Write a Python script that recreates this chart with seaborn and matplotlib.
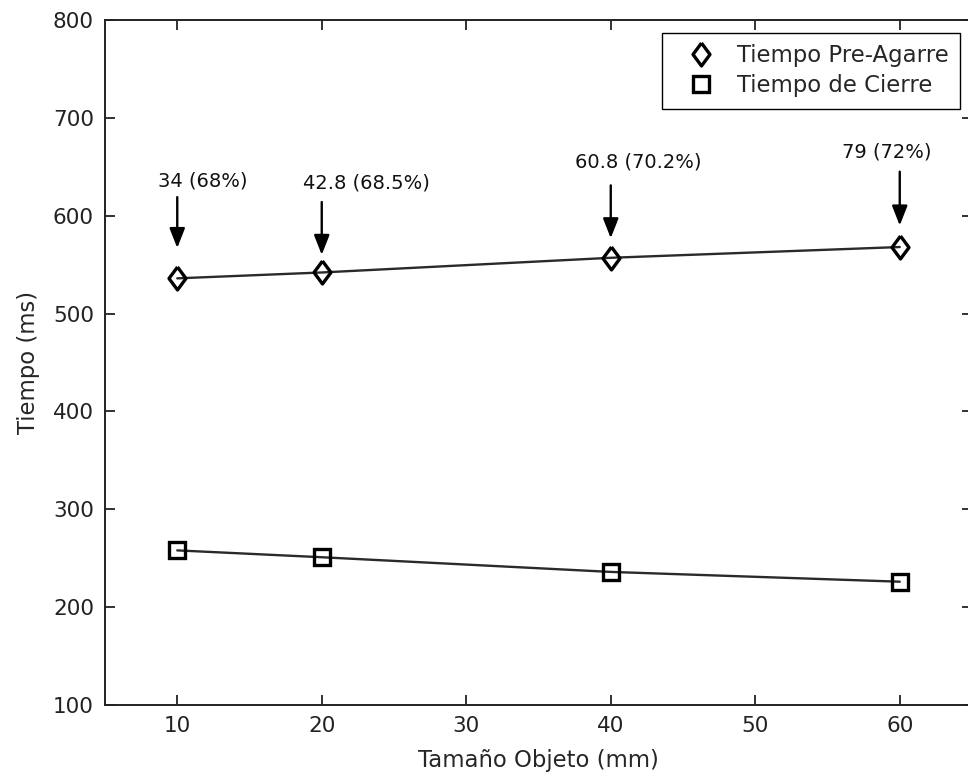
import matplotlib
matplotlib.use("Agg")
import matplotlib.pyplot as plt
import seaborn as sns
import pandas as pd

# ---- data ----
tamano_mm = [10, 20, 40, 60]
tiempo_pre_agarre = [536, 542, 557, 568]
tiempo_cierre = [258, 251, 236, 226]
etiquetas = ["34 (68%)", "42.8 (68.5%)", "60.8 (70.2%)", "79 (72%)"]
serie_pre = "Tiempo Pre-Agarre"
serie_cierre = "Tiempo de Cierre"
x_ticks = [10, 20, 30, 40, 50, 60]
y_ticks = [100, 200, 300, 400, 500, 600, 700, 800]

df_pre = pd.DataFrame({"x": tamano_mm, "y": tiempo_pre_agarre})
df_cie = pd.DataFrame({"x": tamano_mm, "y": tiempo_cierre})

sns.set_style("ticks")
plt.rcParams["font.family"] = ["DejaVu Sans"]
FS = 15.5
FS_LAB = 16.4
FS_ANN = 14

fig = plt.figure(figsize=(9.68, 7.75), dpi=100)
ax = fig.add_axes([105 / 968, 1 - 705 / 775, 867 / 968, 685 / 775])

diamond = [(0, 1), (0.74, 0), (0, -1), (-0.74, 0), (0, 1)]
LINE_C = "#2a2a2a"

# fitted/connecting lines
sns.lineplot(data=df_pre, x="x", y="y", ax=ax, color=LINE_C, lw=1.7, legend=False)
sns.lineplot(data=df_cie, x="x", y="y", ax=ax, color=LINE_C, lw=1.7, legend=False)
# markers
sns.lineplot(data=df_pre, x="x", y="y", ax=ax, linestyle="none", marker=diamond,
             markersize=16.5, markerfacecolor="none", markeredgecolor="black",
             markeredgewidth=2.4, color="black", label=serie_pre)
sns.lineplot(data=df_cie, x="x", y="y", ax=ax, linestyle="none", marker="s",
             markersize=11, markerfacecolor="none", markeredgecolor="black",
             markeredgewidth=2.4, color="black", label=serie_cierre)

# annotations (layout offsets)
text_dy = [99, 91, 98, 97]
tail_dy = [83, 72, 74, 77]
tip_dy = [31, 18, 20, 22]
text_dx = [-1.33, -1.3, -2.5, -4.0]
for xi, yi, lab, tdy, tly, tpy, tdx in zip(tamano_mm, tiempo_pre_agarre, etiquetas,
                                           text_dy, tail_dy, tip_dy, text_dx):
    ax.text(xi + tdx, yi + tdy, lab, fontsize=FS_ANN, ha="left", va="center", color="#111111")
    ax.annotate("", xy=(xi, yi + tpy), xytext=(xi, yi + tly),
                arrowprops=dict(arrowstyle="-|>,head_length=1.2,head_width=0.47",
                                mutation_scale=10, lw=1.7, color="black",
                                shrinkA=0, shrinkB=0))

ax.set_xlim(5, 65)
ax.set_ylim(100, 800)
ax.set_xticks(x_ticks)
ax.set_yticks(y_ticks)
ax.set_xlabel("Tamaño Objeto (mm)", fontsize=FS_LAB, labelpad=9)
ax.set_ylabel("Tiempo (ms)", fontsize=FS_LAB, labelpad=9.5)
ax.tick_params(direction="in", length=7, width=1.3, labelsize=FS, colors="#222222",
               top=True, right=True, pad=8)
for s in ax.spines.values():
    s.set_visible(True)
    s.set_linewidth(1.4)
    s.set_color("#222222")

leg = ax.legend(loc="upper right", bbox_to_anchor=(0.986, 0.981), borderaxespad=0,
                fontsize=FS_LAB, frameon=True, fancybox=False, handlelength=2.42,
                handletextpad=0.37, borderpad=0.5, labelspacing=0.3)
leg.get_frame().set_edgecolor("black")
leg.get_frame().set_linewidth(1.0)
leg.get_frame().set_alpha(1)

fig.savefig("out.png", dpi=100)
